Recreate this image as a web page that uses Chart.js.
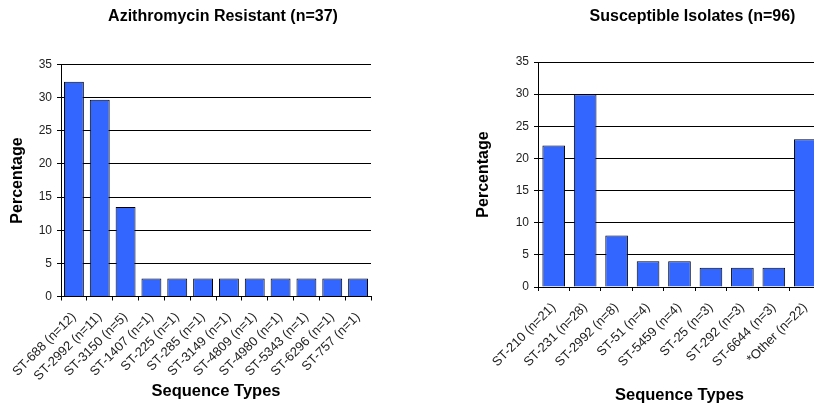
<!DOCTYPE html>
<html>
<head>
<meta charset="utf-8">
<script src="https://cdn.jsdelivr.net/npm/chart.js@4/dist/chart.umd.min.js"></script>
<style>
  html, body { margin: 0; padding: 0; background: #fff; overflow: hidden; width: 814px; height: 404px; }
  canvas { position: absolute; top: 0; }
  #resistant { left: 0; }
  #susceptible { left: 420px; }
  .chart-title {
    position: absolute;
    top: 7.5px;
    font: bold 16px/16px 'Liberation Sans', Arial, sans-serif;
    color: #000;
    white-space: nowrap;
    transform: translateX(-50%);
  }
</style>
</head>
<body>
<canvas id="resistant" width="446" height="410"></canvas>
<canvas id="susceptible" width="545" height="410"></canvas>
<div class="chart-title" style="left:223px">Azithromycin Resistant (n=37)</div>
<div class="chart-title" style="left:692.5px">Susceptible Isolates (n=96)</div>
<script>
// Sequence types among azithromycin-resistant isolates (n=37), percent of isolates
const resistantTypes = [
  'ST-688 (n=12)', 'ST-2992 (n=11)', 'ST-3150 (n=5)', 'ST-1407 (n=1)',
  'ST-225 (n=1)', 'ST-285 (n=1)', 'ST-3149 (n=1)', 'ST-4809 (n=1)',
  'ST-4980 (n=1)', 'ST-5343 (n=1)', 'ST-6296 (n=1)', 'ST-757 (n=1)'
];
const resistantPercent = [32.4, 29.7, 13.5, 2.7, 2.7, 2.7, 2.7, 2.7, 2.7, 2.7, 2.7, 2.7];

// Sequence types among susceptible isolates (n=96), percent of isolates
const susceptibleTypes = [
  'ST-210 (n=21)', 'ST-231 (n=28)', 'ST-2992 (n=8)', 'ST-51 (n=4)',
  'ST-5459 (n=4)', 'ST-25 (n=3)', 'ST-292 (n=3)', 'ST-6644 (n=3)', '*Other (n=22)'
];
const susceptiblePercent = [22, 30, 8, 4, 4, 3, 3, 3, 23];

// Percentage axis range
const yMin = 0;
const yMax = 35;
const yStep = 5;

const FAMILY = "'Liberation Sans', Arial, sans-serif";
const BAR_FILL = '#3366FF';

function buildChart(canvasId, cfg) {
  return new Chart(document.getElementById(canvasId), {
    type: 'bar',
    data: {
      labels: cfg.labels,
      datasets: [{
        data: cfg.values,
        backgroundColor: BAR_FILL,
        borderColor: '#000',
        borderWidth: 1,
        categoryPercentage: 1,
        barPercentage: cfg.barPct
      }]
    },
    options: {
      responsive: false,
      animation: false,
      devicePixelRatio: 1,
      layout: { padding: { left: 0, right: cfg.padRight, top: cfg.padTop, bottom: 0 } },
      plugins: {
        legend: { display: false },
        tooltip: { enabled: false },
        title: { display: false }
      },
      scales: {
        x: {
          afterFit: s => { s.height = cfg.xHeight; },
          grid: { drawOnChartArea: false, drawTicks: true, tickLength: 4, color: '#000', offset: true },
          border: { display: true, color: '#000', width: 1 },
          ticks: {
            autoSkip: false,
            minRotation: 45,
            maxRotation: 45,
            padding: 9,
            color: '#222',
            font: { family: FAMILY, size: 13 }
          },
          title: {
            display: true,
            text: 'Sequence Types',
            color: '#000',
            font: { family: FAMILY, size: 16.5, weight: 'bold' },
            padding: { top: 0, bottom: cfg.xTitlePad }
          }
        },
        y: {
          min: yMin,
          max: yMax,
          afterFit: s => { s.width = cfg.yWidth; },
          grid: { drawTicks: true, tickLength: 4, color: '#000', lineWidth: 1 },
          border: { display: true, color: '#000', width: 1 },
          ticks: {
            stepSize: yStep,
            padding: 5,
            color: '#222',
            font: { family: FAMILY, size: 12 }
          },
          title: {
            display: true,
            text: 'Percentage',
            color: '#000',
            font: { family: FAMILY, size: 16, weight: 'bold' },
            padding: { top: cfg.yTitlePad, bottom: 0 }
          }
        }
      }
    }
  });
}

buildChart('resistant', {
  labels: resistantTypes,
  values: resistantPercent,
  barPct: 0.77,
  padTop: 64.5,
  padRight: 75,
  xHeight: 113.5,
  xTitlePad: 9,
  yWidth: 61,
  yTitlePad: 7.6
});

buildChart('susceptible', {
  labels: susceptibleTypes,
  values: susceptiblePercent,
  barPct: 0.72,
  padTop: 62,
  padRight: 144,
  xHeight: 123,
  xTitlePad: 4.5,
  yWidth: 118,
  yTitlePad: 54
});
</script>
</body>
</html>
